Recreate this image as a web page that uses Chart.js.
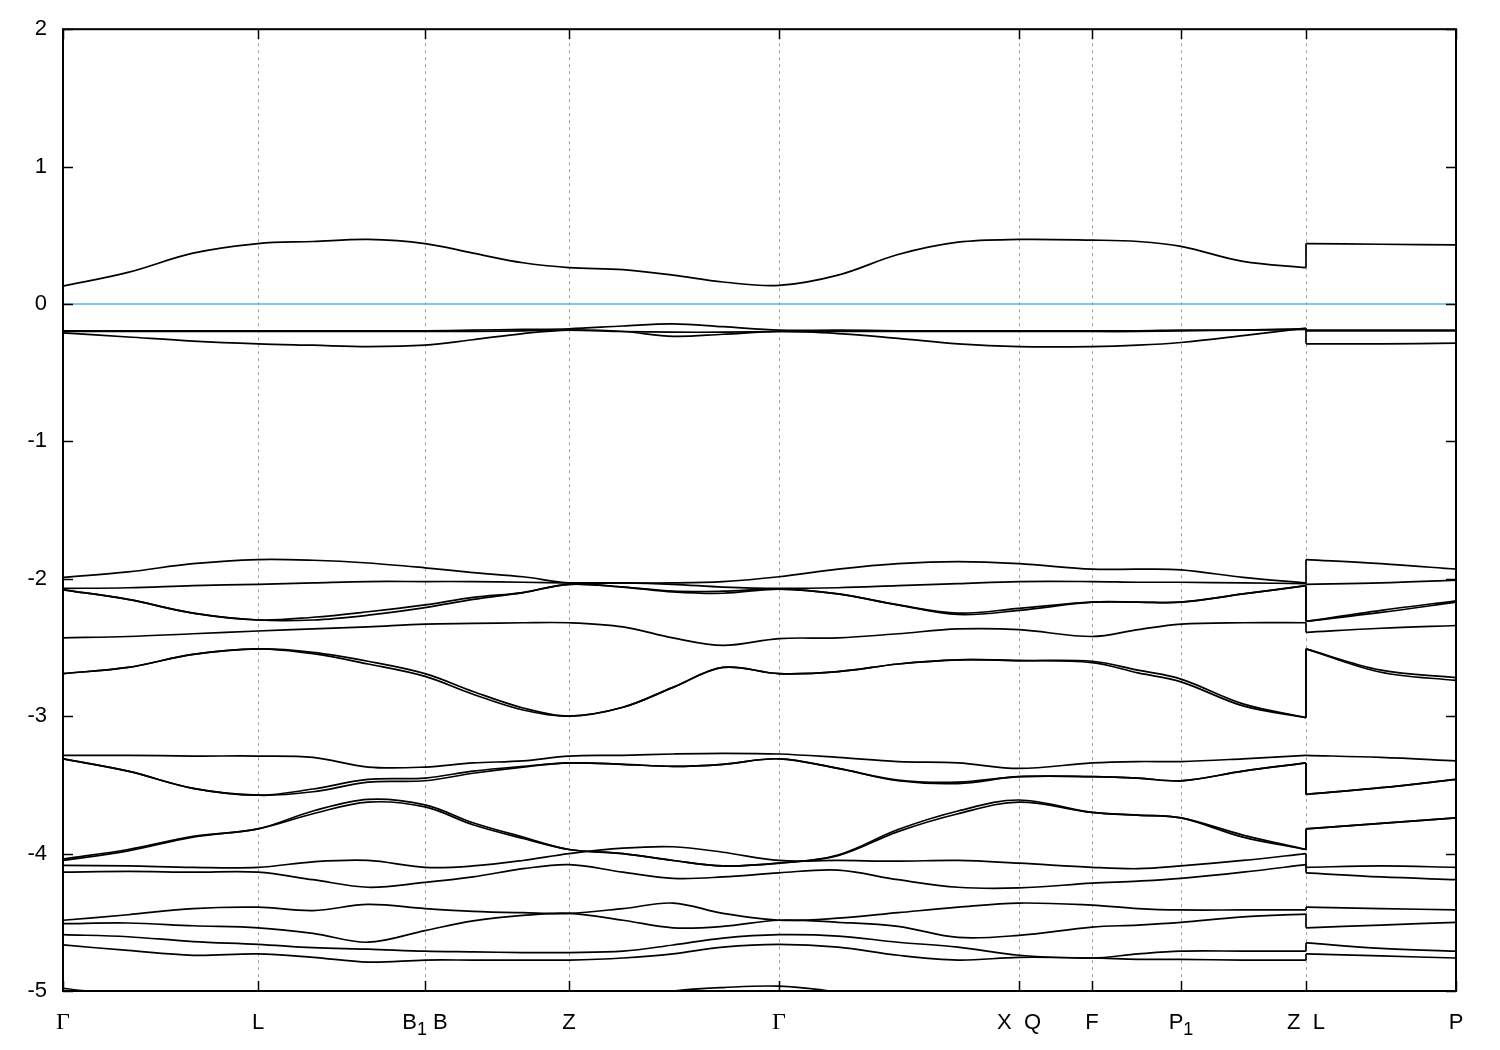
<!DOCTYPE html>
<html>
<head>
<meta charset="utf-8">
<title>Band structure</title>
<script src="https://cdn.jsdelivr.net/npm/chart.js@4.4.1/dist/chart.umd.min.js"></script>
<style>
  html, body { margin: 0; padding: 0; background: #fff; }
</style>
</head>
<body>
<canvas id="bandPlot" width="1500" height="1050"></canvas>
<script>
// high-symmetry points along the k-path
const kTicks = [0, 195, 362, 506, 716, 956, 1029, 1118, 1243, 1393];
const kLabels = ['Γ', 'L', 'B₁ B', 'Z', 'Γ', 'X  Q', 'F', 'P₁', 'Z  L', 'P'];

// sampled k positions: Γ-L-B1|B-Z-Γ-X|Q-F-P1-Z, then the separate L-P piece
const kPath = [0, 65, 130, 195, 250, 305, 362, 410, 460, 506, 560, 610, 660, 716, 775, 835, 895, 956, 1029, 1075, 1118, 1180, 1243];
const kPathLP = [1243, 1318, 1393];

const energyTicks = [2, 1, 0, -1, -2, -3, -4, -5];
const fermiLevel = [0, 0];

// band energies (eV): 23 values on kPath, then 3 on kPathLP
const cb1 = [0.13, 0.23, 0.37, 0.44, 0.455, 0.47, 0.44, 0.37, 0.30, 0.265, 0.25, 0.21, 0.16, 0.135, 0.21, 0.36, 0.45, 0.47, 0.465, 0.455, 0.42, 0.31, 0.265, 0.44, 0.435, 0.43];
const vb1 = [-0.195, -0.195, -0.195, -0.195, -0.195, -0.195, -0.195, -0.19, -0.185, -0.18, -0.16, -0.145, -0.165, -0.19, -0.19, -0.195, -0.195, -0.195, -0.195, -0.195, -0.19, -0.19, -0.185, -0.19, -0.19, -0.19];
const vb2 = [-0.2, -0.2, -0.2, -0.2, -0.2, -0.2, -0.2, -0.2, -0.195, -0.19, -0.2, -0.205, -0.205, -0.2, -0.2, -0.2, -0.2, -0.2, -0.2, -0.2, -0.195, -0.19, -0.18, -0.195, -0.195, -0.195];
const vb3 = [-0.21, -0.24, -0.27, -0.29, -0.30, -0.31, -0.30, -0.26, -0.215, -0.19, -0.20, -0.235, -0.22, -0.20, -0.215, -0.25, -0.29, -0.31, -0.31, -0.30, -0.28, -0.23, -0.175, -0.29, -0.29, -0.285];

const vb4 = [-1.99, -1.95, -1.89, -1.86, -1.865, -1.885, -1.92, -1.955, -1.985, -2.03, -2.03, -2.03, -2.02, -1.985, -1.93, -1.89, -1.875, -1.89, -1.93, -1.93, -1.935, -1.99, -2.03, -1.86, -1.89, -1.93];
const vb5 = [-2.07, -2.065, -2.05, -2.04, -2.03, -2.02, -2.02, -2.02, -2.025, -2.03, -2.03, -2.04, -2.06, -2.07, -2.065, -2.05, -2.035, -2.02, -2.02, -2.025, -2.025, -2.03, -2.035, -2.04, -2.03, -2.01];
const vb6 = [-2.08, -2.15, -2.25, -2.30, -2.30, -2.265, -2.21, -2.15, -2.10, -2.04, -2.06, -2.09, -2.09, -2.075, -2.11, -2.19, -2.26, -2.23, -2.17, -2.17, -2.17, -2.11, -2.05, -2.31, -2.245, -2.17];
const vb6b = [-2.08, -2.15, -2.25, -2.30, -2.28, -2.24, -2.19, -2.135, -2.10, -2.04, -2.06, -2.095, -2.105, -2.075, -2.11, -2.19, -2.25, -2.215, -2.17, -2.17, -2.17, -2.11, -2.05, -2.31, -2.23, -2.16];
const vb7 = [-2.43, -2.42, -2.40, -2.38, -2.365, -2.35, -2.33, -2.325, -2.32, -2.32, -2.35, -2.43, -2.485, -2.435, -2.43, -2.40, -2.365, -2.37, -2.42, -2.37, -2.33, -2.32, -2.32, -2.39, -2.36, -2.34];
const vb8 = [-2.69, -2.645, -2.55, -2.51, -2.535, -2.60, -2.69, -2.82, -2.94, -3.0, -2.935, -2.79, -2.645, -2.69, -2.675, -2.62, -2.59, -2.595, -2.60, -2.665, -2.73, -2.91, -3.01, -2.51, -2.665, -2.72];
const vb8b = [-2.69, -2.645, -2.55, -2.51, -2.545, -2.62, -2.71, -2.84, -2.955, -3.0, -2.935, -2.79, -2.645, -2.69, -2.675, -2.62, -2.59, -2.595, -2.61, -2.685, -2.75, -2.925, -3.01, -2.51, -2.68, -2.74];

const vb9 = [-3.285, -3.285, -3.29, -3.29, -3.30, -3.37, -3.37, -3.34, -3.325, -3.29, -3.285, -3.275, -3.27, -3.275, -3.30, -3.33, -3.34, -3.38, -3.34, -3.33, -3.33, -3.31, -3.285, -3.285, -3.30, -3.325];
const vb10 = [-3.31, -3.40, -3.525, -3.575, -3.55, -3.48, -3.47, -3.415, -3.37, -3.34, -3.35, -3.365, -3.35, -3.31, -3.38, -3.47, -3.49, -3.44, -3.44, -3.45, -3.47, -3.40, -3.34, -3.57, -3.52, -3.46];
const vb10b = [-3.31, -3.40, -3.525, -3.575, -3.53, -3.46, -3.45, -3.40, -3.365, -3.34, -3.35, -3.365, -3.35, -3.31, -3.38, -3.465, -3.48, -3.44, -3.44, -3.45, -3.47, -3.40, -3.34, -3.57, -3.52, -3.46];
const vb11 = [-4.05, -3.98, -3.88, -3.82, -3.71, -3.625, -3.66, -3.79, -3.89, -3.97, -4.0, -4.05, -4.09, -4.07, -4.015, -3.84, -3.71, -3.625, -3.70, -3.72, -3.74, -3.88, -3.97, -3.82, -3.78, -3.74];
const vb11b = [-4.04, -3.97, -3.875, -3.82, -3.69, -3.605, -3.645, -3.775, -3.88, -3.97, -4.0, -4.05, -4.09, -4.07, -4.01, -3.825, -3.69, -3.61, -3.70, -3.72, -3.74, -3.865, -3.97, -3.82, -3.78, -3.74];
const vb12 = [-4.085, -4.09, -4.10, -4.10, -4.06, -4.05, -4.10, -4.09, -4.05, -4.0, -3.96, -3.95, -3.99, -4.05, -4.05, -4.055, -4.05, -4.07, -4.10, -4.11, -4.09, -4.05, -4.0, -4.10, -4.09, -4.10];
const vb13 = [-4.135, -4.13, -4.135, -4.135, -4.19, -4.245, -4.21, -4.17, -4.11, -4.08, -4.135, -4.18, -4.17, -4.14, -4.12, -4.19, -4.245, -4.25, -4.215, -4.20, -4.18, -4.135, -4.08, -4.14, -4.17, -4.19];
const vb14 = [-4.485, -4.445, -4.40, -4.39, -4.415, -4.37, -4.40, -4.42, -4.43, -4.435, -4.40, -4.36, -4.435, -4.485, -4.47, -4.43, -4.39, -4.36, -4.375, -4.40, -4.41, -4.41, -4.41, -4.39, -4.40, -4.41];
const vb15 = [-4.51, -4.505, -4.525, -4.54, -4.58, -4.645, -4.56, -4.49, -4.45, -4.435, -4.485, -4.54, -4.53, -4.485, -4.50, -4.53, -4.61, -4.595, -4.535, -4.52, -4.50, -4.46, -4.44, -4.54, -4.52, -4.50];
const vb16 = [-4.59, -4.605, -4.64, -4.66, -4.685, -4.695, -4.71, -4.715, -4.72, -4.72, -4.71, -4.665, -4.615, -4.59, -4.60, -4.645, -4.68, -4.74, -4.76, -4.73, -4.71, -4.71, -4.71, -4.65, -4.69, -4.71];
const vb17 = [-4.665, -4.705, -4.74, -4.73, -4.755, -4.79, -4.775, -4.775, -4.775, -4.775, -4.76, -4.73, -4.68, -4.66, -4.68, -4.74, -4.775, -4.755, -4.76, -4.77, -4.77, -4.775, -4.775, -4.73, -4.745, -4.76];
const vb18 = [-4.98, -5.04, -5.12, -5.15, -5.18, -5.2, -5.2, -5.18, -5.12, -5.1, -5.06, -5.0, -4.975, -4.965, -5.01, -5.1, -5.15, -5.2, -5.2, -5.2, -5.2, -5.2, -5.2, -5.2, -5.2, -5.2];

const bandList = [cb1, vb1, vb2, vb3, vb4, vb5, vb6, vb6b, vb7, vb8, vb8b, vb9, vb10, vb10b, vb11, vb11b, vb12, vb13, vb14, vb15, vb16, vb17, vb18];

const SANS = '"Liberation Sans", Arial, sans-serif';
const SERIF = '"Liberation Serif", "Times New Roman", serif';

document.addEventListener('DOMContentLoaded', function () {
  const n = kPath.length;
  const datasets = [];
  const line = { borderColor: '#000', borderWidth: 1.7, pointRadius: 0, fill: false };

  bandList.forEach(band => {
    datasets.push({ ...line, tension: 0.35, data: kPath.map((k, i) => ({ x: k, y: band[i] })) });
    // vertical jump at Z|L
    datasets.push({ ...line, tension: 0, data: [{ x: kPath[n - 1], y: band[n - 1] }, { x: kPathLP[0], y: band[n] }] });
    datasets.push({ ...line, tension: 0.35, data: kPathLP.map((k, j) => ({ x: k, y: band[n + j] })) });
  });

  datasets.push({
    data: [{ x: kTicks[0], y: fermiLevel[0] }, { x: kTicks[kTicks.length - 1], y: fermiLevel[1] }],
    borderColor: '#56b4e9', borderWidth: 1.5, pointRadius: 0, fill: false,
  });

  // k-point labels with lowered subscript digits
  function drawLabel(ctx, text, cx, baseline) {
    const parts = [];
    for (const ch of text) {
      const sub = '₀₁₂₃₄₅₆₇₈₉'.indexOf(ch);
      if (sub >= 0) parts.push({ t: String(sub), font: '18px ' + SANS, dy: 6 });
      else if (ch === 'Γ') parts.push({ t: ch, font: '24px ' + SERIF, dy: 0 });
      else parts.push({ t: ch, font: '22px ' + SANS, dy: 0 });
    }
    let w = 0;
    parts.forEach(p => { ctx.font = p.font; p.w = ctx.measureText(p.t).width; w += p.w; });
    let x = cx - w / 2;
    parts.forEach(p => { ctx.font = p.font; ctx.fillText(p.t, x, baseline + p.dy); x += p.w; });
  }

  // gnuplot-like frame, dashed verticals, inward tick marks and k labels
  const framePlugin = {
    id: 'frame',
    beforeDatasetsDraw(chart) {
      const { ctx, chartArea: a, scales: { x } } = chart;
      ctx.save();
      ctx.strokeStyle = '#a0a0a0';
      ctx.lineWidth = 1;
      ctx.setLineDash([3, 4]);
      kTicks.slice(1, -1).forEach(k => {
        const px = Math.round(x.getPixelForValue(k)) + 0.5;
        ctx.beginPath(); ctx.moveTo(px, a.top); ctx.lineTo(px, a.bottom); ctx.stroke();
      });
      ctx.restore();
    },
    afterDatasetsDraw(chart) {
      const { ctx, chartArea: a, scales: { x, y } } = chart;
      ctx.save();
      ctx.strokeStyle = '#000';
      ctx.lineWidth = 1.5;
      kTicks.forEach(k => {
        const px = Math.round(x.getPixelForValue(k)) + 0.5;
        ctx.beginPath();
        ctx.moveTo(px, a.bottom); ctx.lineTo(px, a.bottom - 10);
        ctx.moveTo(px, a.top); ctx.lineTo(px, a.top + 10);
        ctx.stroke();
      });
      energyTicks.forEach(e => {
        const py = Math.round(y.getPixelForValue(e)) + 0.5;
        ctx.beginPath();
        ctx.moveTo(a.left, py); ctx.lineTo(a.left + 10, py);
        ctx.moveTo(a.right, py); ctx.lineTo(a.right - 10, py);
        ctx.stroke();
      });
      ctx.lineWidth = 2;
      ctx.strokeRect(a.left, a.top, a.right - a.left, a.bottom - a.top);

      ctx.fillStyle = '#000';
      ctx.textBaseline = 'alphabetic';
      ctx.textAlign = 'left';
      kTicks.forEach((k, i) => drawLabel(ctx, kLabels[i], x.getPixelForValue(k), a.bottom + 38));
      ctx.restore();
    },
  };

  new Chart(document.getElementById('bandPlot').getContext('2d'), {
    type: 'line',
    data: { datasets },
    options: {
      responsive: false,
      animation: false,
      devicePixelRatio: 1,
      events: [],
      layout: { padding: { top: 28, right: 44, left: 0, bottom: 0 } },
      plugins: { legend: { display: false }, tooltip: { enabled: false }, title: { display: false } },
      scales: {
        x: {
          type: 'linear',
          min: kTicks[0],
          max: kTicks[kTicks.length - 1],
          grid: { display: false, drawTicks: false },
          border: { display: false },
          afterBuildTicks: s => { s.ticks = kTicks.map(v => ({ value: v })); },
          afterFit: s => { s.height = 59; },
          ticks: { display: false },
        },
        y: {
          min: -5,
          max: 2,
          grid: { display: false, drawTicks: false },
          border: { display: false },
          afterBuildTicks: s => { s.ticks = energyTicks.map(v => ({ value: v })); },
          afterFit: s => { s.width = 63; },
          ticks: {
            padding: 16,
            color: '#000',
            font: { family: SANS, size: 22 },
          },
        },
      },
    },
    plugins: [framePlugin],
  });
});
</script>
</body>
</html>
